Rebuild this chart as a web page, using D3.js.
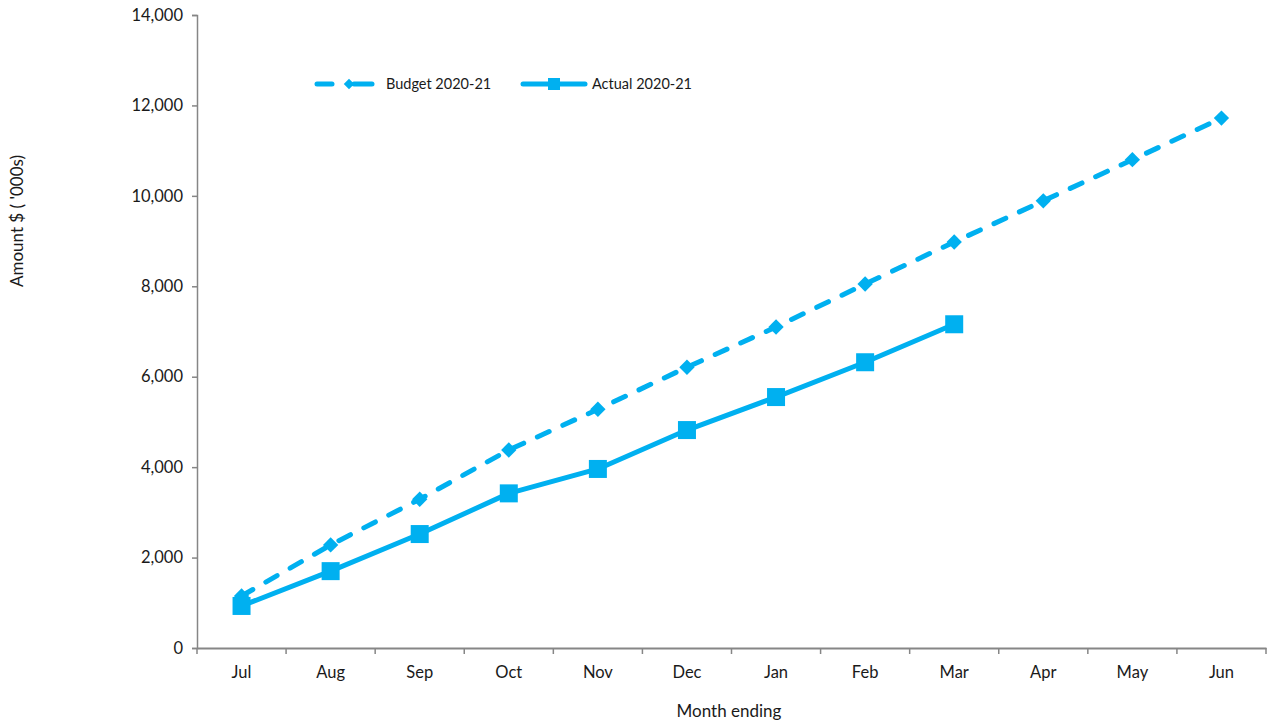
<!DOCTYPE html>
<html>
<head>
<meta charset="utf-8">
<script src="https://cdn.jsdelivr.net/npm/d3@7"></script>
<style>
  body { margin: 0; background: #fff; }
  text { font-family: Lato, "Open Sans", sans-serif; fill: #1a1a1a; }
</style>
</head>
<body>
<svg id="chart" width="1269" height="723"></svg>
<script>
// data
var months = ["Jul", "Aug", "Sep", "Oct", "Nov", "Dec", "Jan", "Feb", "Mar", "Apr", "May", "Jun"];
var budget = [1150, 2280, 3290, 4380, 5280, 6210, 7100, 8050, 8980, 9890, 10800, 11720];
var actual = [930, 1700, 2520, 3420, 3960, 4820, 5550, 6320, 7160];
var yTicks = [0, 2000, 4000, 6000, 8000, 10000, 12000, 14000];

var blue = "#00b0f0";
var axisGrey = "#868686";

// plot box (note: "top" is taken by window.top)
var plotLeft = 197, plotRight = 1266, plotTop = 15, plotBottom = 648;
var svg = d3.select("#chart");

var x = d3.scaleBand().domain(months).range([plotLeft, plotRight]);
var y = d3.scaleLinear().domain([0, 14000]).range([plotBottom, plotTop]);

// y axis
var yAxis = svg.append("g")
    .attr("transform", "translate(" + plotLeft + ",0)")
    .call(d3.axisLeft(y).tickValues(yTicks).tickSize(5).tickPadding(9).tickFormat(d3.format(",")));
yAxis.selectAll("text").style("font-size", "16.5px");

// x axis
var xAxis = svg.append("g")
    .attr("transform", "translate(0," + plotBottom + ")")
    .call(d3.axisBottom(x).tickSize(0).tickPadding(18));
xAxis.selectAll("text").style("font-size", "16.5px");
// band edge ticks like the spreadsheet chart
xAxis.selectAll(".edge")
    .data(months.map(function (m) { return x(m); }).concat([plotRight]))
    .enter()
    .append("line")
    .attr("class", "edge")
    .attr("x1", function (d) { return d; })
    .attr("x2", function (d) { return d; })
    .attr("y1", 0)
    .attr("y2", 6);

svg.selectAll(".domain, .tick line, .edge").attr("stroke", axisGrey);
xAxis.selectAll("line").attr("stroke-width", 1.5);
yAxis.selectAll("line, .domain").attr("stroke-width", 1.5);
xAxis.select(".domain").attr("stroke-width", 2);

var cx = function (d, i) { return x(months[i]) + x.bandwidth() / 2; };

var line = d3.line()
    .x(cx)
    .y(function (d) { return y(d); });

// budget (dashed, diamonds)
svg.append("path")
    .datum(budget)
    .attr("d", line)
    .attr("fill", "none")
    .attr("stroke", blue)
    .attr("stroke-width", 5)
    .attr("stroke-linecap", "round")
    .attr("stroke-dasharray", "13,15");

var diamond = d3.symbol().type(d3.symbolDiamond2).size(150);
svg.selectAll(".bmark")
    .data(budget)
    .enter()
    .append("path")
    .attr("class", "bmark")
    .attr("d", diamond)
    .attr("transform", function (d, i) { return "translate(" + cx(d, i) + "," + y(d) + ")"; })
    .attr("fill", blue);

// actual (solid, squares)
svg.append("path")
    .datum(actual)
    .attr("d", line)
    .attr("fill", "none")
    .attr("stroke", blue)
    .attr("stroke-width", 5)
    .attr("stroke-linejoin", "round");

svg.selectAll(".amark")
    .data(actual)
    .enter()
    .append("rect")
    .attr("class", "amark")
    .attr("x", function (d, i) { return cx(d, i) - 9; })
    .attr("y", function (d) { return y(d) - 9; })
    .attr("width", 18)
    .attr("height", 18)
    .attr("fill", blue);

// legend
var leg = svg.append("g").attr("transform", "translate(0,84)");
leg.append("line").attr("x1", 317).attr("x2", 332).attr("y1", 0).attr("y2", 0)
    .attr("stroke", blue).attr("stroke-width", 5).attr("stroke-linecap", "round");
leg.append("line").attr("x1", 354).attr("x2", 372).attr("y1", 0).attr("y2", 0)
    .attr("stroke", blue).attr("stroke-width", 5).attr("stroke-linecap", "round");
leg.append("path").attr("d", d3.symbol().type(d3.symbolDiamond2).size(70)).attr("transform", "translate(349,0)").attr("fill", blue);
leg.append("text").attr("x", 386).attr("y", 5).style("font-size", "14.5px").text("Budget 2020-21");

leg.append("line").attr("x1", 523).attr("x2", 585).attr("y1", 0).attr("y2", 0)
    .attr("stroke", blue).attr("stroke-width", 5).attr("stroke-linecap", "round");
leg.append("rect").attr("x", 548).attr("y", -6).attr("width", 12).attr("height", 12).attr("fill", blue);
leg.append("text").attr("x", 592).attr("y", 5).style("font-size", "14.5px").text("Actual 2020-21");

// axis titles
svg.append("text")
    .attr("transform", "translate(23,221) rotate(-90)")
    .attr("text-anchor", "middle")
    .style("font-size", "17px")
    .text("Amount $ ( '000s)");

svg.append("text")
    .attr("x", 729)
    .attr("y", 717)
    .attr("text-anchor", "middle")
    .style("font-size", "17px")
    .text("Month ending");
</script>
</body>
</html>
